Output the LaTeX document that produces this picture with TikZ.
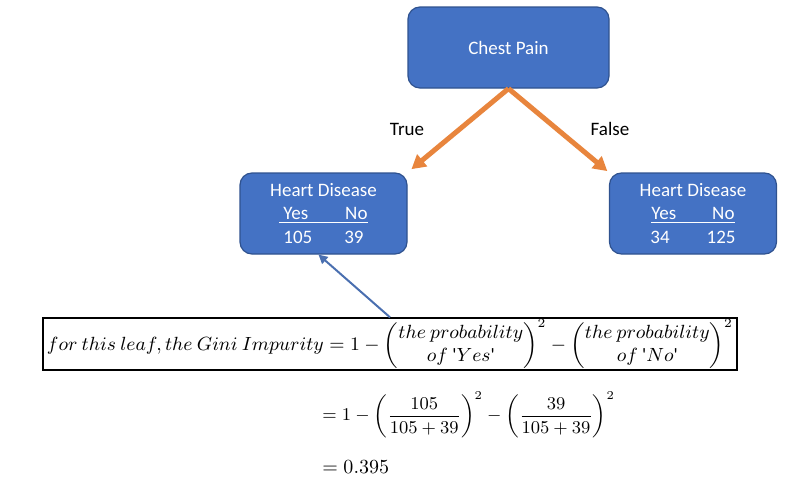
\documentclass[tikz,border=0pt]{standalone}
\usepackage{amsmath}
\usepackage{graphicx}
\usepackage{fontspec}
\setmainfont{Carlito}
\usetikzlibrary{arrows.meta,positioning,calc}
\definecolor{nodeblue}{HTML}{4472C4}
\definecolor{edgeblue}{HTML}{2F528F}
\definecolor{branch}{HTML}{E8853D}
\definecolor{pointblue}{HTML}{4A6FB0}
\newcommand{\tick}{\text{\textquotesingle}}
\tikzset{
  treebox/.style={
    rectangle, rounded corners=6pt, draw=edgeblue, fill=nodeblue,
    line width=0.6pt, text=white, align=center,
    minimum width=#1, minimum height=40.5pt,
    font=\fontsize{9.5}{11.6}\selectfont, inner sep=2pt
  },
  treebox/.default=83.5pt,
  brancharrow/.style={
    -{Triangle[length=7pt,width=7.5pt]}, line width=2.5pt, color=branch
  },
  pointer/.style={
    -{Triangle[length=4.5pt,width=4.5pt]}, line width=1pt, color=pointblue
  },
  edgelabel/.style={
    font=\fontsize{9.5}{11.6}\selectfont, text=black
  },
  formulabox/.style={
    rectangle, draw=black, line width=0.7pt, fill=white,
    minimum width=347pt, minimum height=26pt, inner sep=0.5pt
  },
  mathline/.style={anchor=west, inner sep=0pt}
}

\begin{document}
\begin{tikzpicture}[x=0.5pt, y=-0.5pt]
\useasboundingbox (0,0) rectangle (794,498);

% Root and leaves
\node[treebox=100.5pt] (chest) at (508.5,47.5) {Chest Pain};
\node[treebox] (leaf-true) at (323.5,213.5)
  {Heart Disease\\ \underline{\hspace{2pt}Yes\hspace{18.5pt}No}\\ 105\hspace{16pt}39};
\node[treebox] (leaf-false) at (693,213.5)
  {Heart Disease\\ \underline{Yes\hspace{18pt}No}\\ 34\hspace{18.5pt}125};

% Branches
\draw[brancharrow, shorten >=2.5pt] (chest.south) -- (leaf-true.north east);
\draw[brancharrow, shorten >=1pt] (chest.south) -- (leaf-false.north west);
\node[edgelabel] (lbl-true) at (407,129) {True};
\node[edgelabel] (lbl-false) at (610,129) {False};

% Gini impurity of the True leaf
\node[formulabox] (gini-def) at (390,344) {\resizebox{343pt}{!}{\fontsize{9}{11}\selectfont
  $for\ this\ leaf, the\ Gini\ Impurity = 1 -
  \begin{pmatrix} the\ probability\\ of\ \tick Yes\tick \end{pmatrix}^{2} -
  \begin{pmatrix} the\ probability\\ of\ \tick No\tick \end{pmatrix}^{2}$}};
\draw[pointer] (gini-def.north) -- ([xshift=-2.5pt]leaf-true.south);

\node[mathline] (gini-step) at (322,415) {\fontsize{9}{11}\selectfont
  $= 1 - \left(\dfrac{105}{105+39}\right)^{2} - \left(\dfrac{39}{105+39}\right)^{2}$};
\node[mathline] (gini-result) at (322,467) {\fontsize{10}{12}\selectfont $= 0.395$};

\end{tikzpicture}
\end{document}
